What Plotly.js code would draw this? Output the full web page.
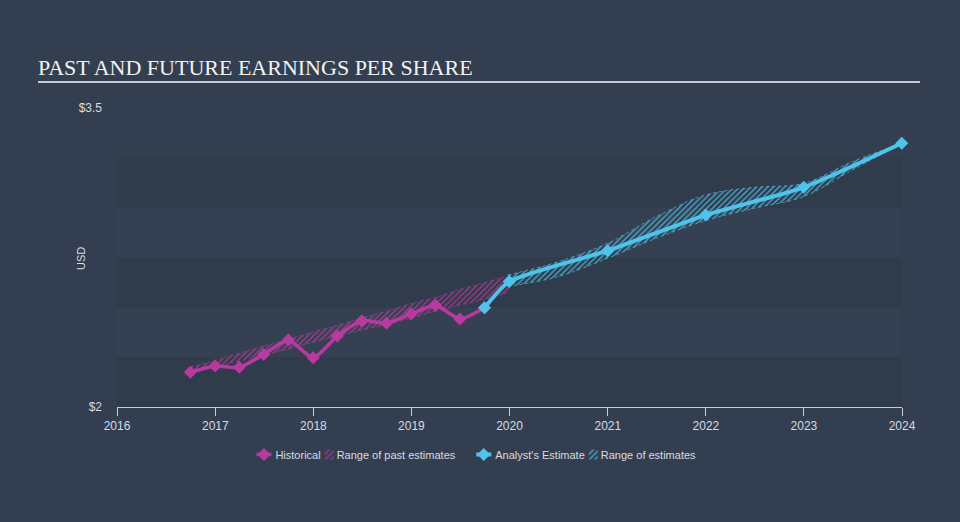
<!DOCTYPE html>
<html>
<head>
<meta charset="utf-8">
<script src="https://cdn.plot.ly/plotly-3.0.1.min.js"></script>
<style>
html,body{margin:0;padding:0;background:#333f50;}
#chart{width:960px;height:522px;}
</style>
</head>
<body>
<div id="chart"></div>
<script>
// Historical EPS (quarterly)
var histDates = ["2016-09-30","2016-12-31","2017-03-31","2017-06-30","2017-09-30","2017-12-31","2018-03-31","2018-06-30","2018-09-30","2018-12-31","2019-03-31","2019-06-30","2019-09-30"];
var histEPS = [2.174,2.206,2.199,2.264,2.336,2.247,2.356,2.433,2.420,2.467,2.510,2.442,2.498];

// Range of past estimates
var pastRangeDates = ["2016-09-30","2016-12-31","2017-03-31","2017-06-30","2017-09-30","2017-12-31","2018-03-31","2018-06-30","2018-09-30","2018-12-31","2019-03-31","2019-06-30","2019-09-30","2019-12-31"];
var pastHigh = [2.200,2.235,2.270,2.306,2.340,2.377,2.410,2.448,2.480,2.520,2.550,2.590,2.625,2.660];
var pastLow  = [2.170,2.200,2.230,2.260,2.290,2.325,2.355,2.385,2.415,2.445,2.480,2.510,2.540,2.575];

// Analyst estimates
var estDates = ["2019-09-30","2019-12-31","2020-12-31","2021-12-31","2022-12-31","2023-12-31"];
var estEPS = [2.498,2.629,2.784,2.963,3.102,3.323];

// Range of future estimates
var rangeDates = ["2019-12-25","2020-06-30","2020-12-31","2021-06-30","2021-12-31","2022-06-30","2022-12-31","2023-06-30","2023-12-31"];
var rangeHigh = [2.662,2.729,2.821,2.955,3.064,3.102,3.122,3.231,3.323];
var rangeLow  = [2.604,2.654,2.746,2.846,2.935,2.997,3.055,3.189,3.323];

var yTicks = [2, 3.5];
var yTickText = ["$2", "$3.5"];
var xTicks = ["2016-01-01","2017-01-01","2018-01-01","2019-01-01","2020-01-01","2021-01-01","2022-01-01","2023-01-01","2024-01-01"];
var xTickText = ["2016","2017","2018","2019","2020","2021","2022","2023","2024"];

var MAG = "#b93a9f", BLUE = "#4fc3ea";

var traces = [
  {x: pastRangeDates, y: pastLow, type: "scatter", mode: "lines", showlegend: false, hoverinfo: "skip",
   line: {color: "rgba(185,58,159,0.7)", width: 0.8, dash: "dot", shape: "spline"}},
  {x: pastRangeDates, y: pastHigh, type: "scatter", mode: "lines", name: "Range of past estimates", legendrank: 2,
   fill: "tonexty", fillcolor: "rgba(0,0,0,0)",
   fillpattern: {shape: "/", fgcolor: "rgba(185,58,159,0.8)", bgcolor: "rgba(0,0,0,0)", size: 4, solidity: 0.35},
   line: {color: "rgba(185,58,159,0.7)", width: 0.8, dash: "dot", shape: "spline"}},
  {x: rangeDates, y: rangeLow, type: "scatter", mode: "lines", showlegend: false, hoverinfo: "skip",
   line: {color: "rgba(79,195,234,0.8)", width: 0.8, dash: "dot", shape: "spline"}},
  {x: rangeDates, y: rangeHigh, type: "scatter", mode: "lines", name: "Range of estimates", legendrank: 4,
   fill: "tonexty", fillcolor: "rgba(0,0,0,0)",
   fillpattern: {shape: "/", fgcolor: "rgba(79,195,234,0.8)", bgcolor: "rgba(0,0,0,0)", size: 4, solidity: 0.35},
   line: {color: "rgba(79,195,234,0.8)", width: 0.8, dash: "dot", shape: "spline"}},
  {x: histDates, y: histEPS, type: "scatter", mode: "lines+markers", name: "Historical", legendrank: 1,
   line: {color: MAG, width: 3.5, shape: "spline", smoothing: 0.6},
   marker: {symbol: "diamond", size: 10, color: MAG}},
  {x: estDates, y: estEPS, type: "scatter", mode: "lines+markers", name: "Analyst's Estimate", legendrank: 3,
   line: {color: BLUE, width: 4, shape: "spline", smoothing: 0.6},
   marker: {symbol: "diamond", size: 10, color: BLUE}, cliponaxis: false}
];

var bandShapes = [];
var bands = [[2,2.25,"rgba(0,0,0,0.06)"],[2.25,2.5,"rgba(255,255,255,0.012)"],[2.5,2.75,"rgba(0,0,0,0.06)"],[2.75,3.0,"rgba(255,255,255,0.012)"],[3.0,3.25,"rgba(0,0,0,0.06)"]];
bands.forEach(function(b){
  bandShapes.push({type:"rect", xref:"paper", yref:"y", x0:0, x1:1, y0:b[0], y1:b[1], fillcolor:b[2], line:{width:0}, layer:"below"});
});
bandShapes.push({type:"line", xref:"paper", yref:"paper", x0:-0.1006, x1:1.0229, y0:1.087, y1:1.087, line:{color:"#c8ccd2", width:2}});

var layout = {
  width: 960, height: 522,
  paper_bgcolor: "#333f50", plot_bgcolor: "rgba(0,0,0,0)",
  margin: {l: 117, r: 58, t: 108, b: 115},
  title: {text: "PAST AND FUTURE EARNINGS PER SHARE", font: {family: "Liberation Serif, serif", size: 22, color: "#f2f2f2"},
          xref: "container", yref: "container", x: 0.0396, xanchor: "left", y: 0.872, yanchor: "middle"},
  xaxis: {type: "date", range: ["2016-01-01","2024-01-01"], tickvals: xTicks, ticktext: xTickText,
          showgrid: false, zeroline: false, showline: true, linecolor: "#c8ccd2", linewidth: 1,
          ticks: "outside", ticklen: 8, tickcolor: "#c8ccd2", tickwidth: 1,
          tickfont: {family: "Liberation Sans, Arial, sans-serif", size: 12, color: "#d8dbe0"}, fixedrange: true},
  yaxis: {range: [2, 3.5], tickvals: yTicks, ticktext: yTickText, showgrid: false, zeroline: false, showline: false,
          ticks: "", ticklabelstandoff: 14,
          tickfont: {family: "Liberation Sans, Arial, sans-serif", size: 12, color: "#d8dbe0"}},
  annotations: [{text: "USD", xref: "paper", yref: "paper", x: -0.0459, y: 0.498, xanchor: "center", yanchor: "middle",
                 textangle: -90, showarrow: false, font: {family: "Liberation Sans, Arial, sans-serif", size: 11, color: "#d8dbe0"}}],
  showlegend: true,
  legend: {orientation: "h", x: 0.5, xanchor: "center", y: -0.11, yanchor: "top",
           font: {family: "Liberation Sans, Arial, sans-serif", size: 11, color: "#d8dbe0"},
           bgcolor: "rgba(0,0,0,0)", traceorder: "normal", itemwidth: 30},
  shapes: bandShapes
};

Plotly.newPlot("chart", traces, layout, {displayModeBar: false, staticPlot: true}).then(function(gd){
  try {
    var lg = gd.querySelector("g.legend");
    var lt = /translate\(\s*([-\d.]+)[ ,]+([-\d.]+)/.exec(lg.getAttribute("transform"));
    var lgx = lt ? parseFloat(lt[1]) : 0;
    var items = gd.querySelectorAll("g.legend g.traces");
    var specs = [];
    var total = 0;
    items.forEach(function(it, i){
      var t = it.querySelector("text.legendtext");
      var isRange = /^Range/.test(t.textContent);
      var iconW = isRange ? 12 : 20;
      t.setAttribute("x", iconW);
      if (isRange) {
        it.querySelectorAll(".legendlines path").forEach(function(p){ p.style.display = "none"; });
        it.querySelectorAll(".legendfill path").forEach(function(p){ p.setAttribute("d", "M0,-5h9v10h-9z"); });
      } else {
        it.querySelectorAll(".legendlines path").forEach(function(p){ p.setAttribute("d", "M1,0h15"); });
        it.querySelectorAll(".legendsymbols path.scatterpts").forEach(function(p){ p.setAttribute("transform", "translate(8.5,0)"); });
      }
      var w = iconW + t.getComputedTextLength();
      var gap = (i < items.length - 1) ? (isRange ? 20 : 4) : 0;
      specs.push({it: it, w: w, gap: gap});
      total += w + gap;
    });
    var start = 475.5 - total / 2 - lgx;
    var x = start;
    specs.forEach(function(s){
      var m = /translate\(\s*([-\d.]+)[ ,]+([-\d.]+)/.exec(s.it.getAttribute("transform"));
      var y = m ? parseFloat(m[2]) : 0;
      s.it.setAttribute("transform", "translate(" + x + "," + y + ")");
      x += s.w + s.gap;
    });
  } catch (e) {}
});
</script>
</body>
</html>
